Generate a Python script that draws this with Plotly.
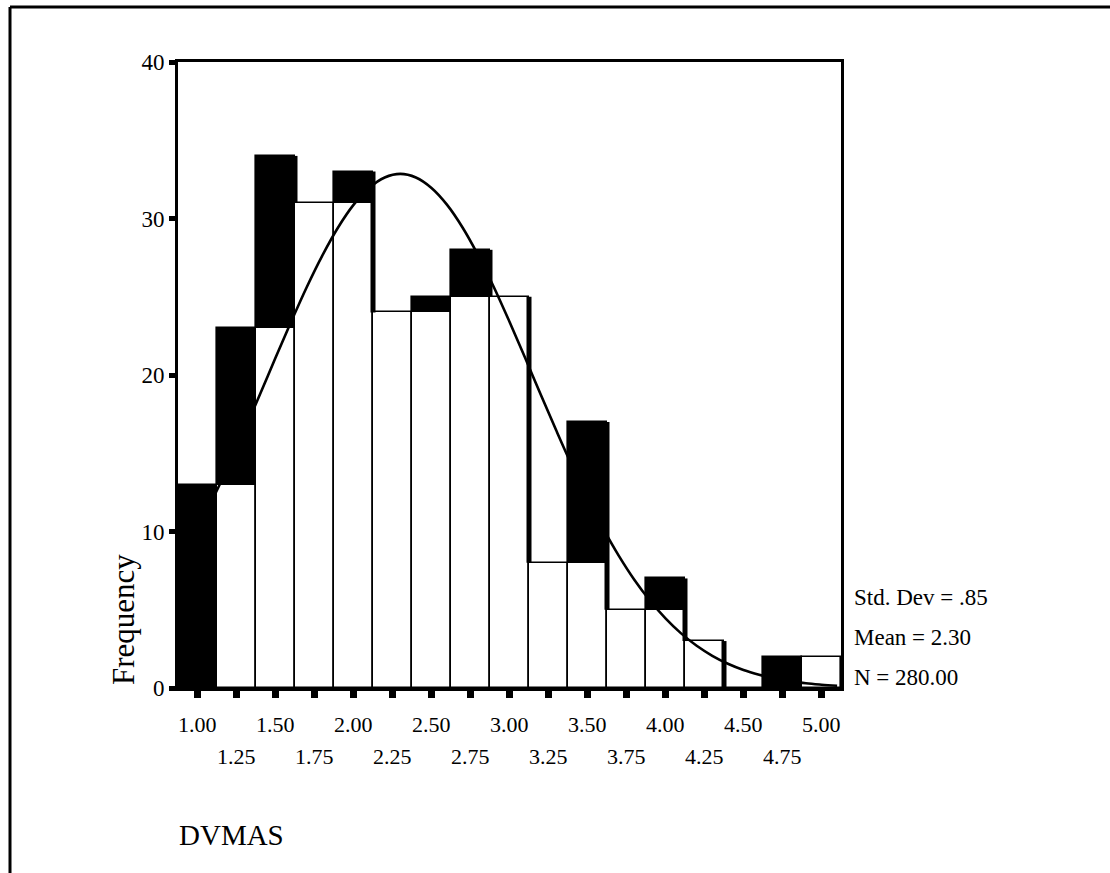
import plotly.graph_objects as go

# ---- data ----
bin_centers = [1.00, 1.25, 1.50, 1.75, 2.00, 2.25, 2.50, 2.75, 3.00,
               3.25, 3.50, 3.75, 4.00, 4.25, 4.50, 4.75, 5.00]
frequencies = [13, 23, 34, 31, 33, 24, 25, 28, 25, 8, 17, 5, 7, 3, 0, 2, 2]
tick_labels = ["1.00", "1.25", "1.50", "1.75", "2.00", "2.25", "2.50", "2.75", "3.00",
               "3.25", "3.50", "3.75", "4.00", "4.25", "4.50", "4.75", "5.00"]
y_ticks = [0, 10, 20, 30, 40]

# normal curve, points
curve_x = [1.1, 1.2, 1.3, 1.4, 1.5, 1.6, 1.7, 1.8, 1.9, 2.0, 2.1, 2.2, 2.3,
           2.4, 2.5, 2.6, 2.7, 2.8, 2.9, 3.0, 3.1, 3.2, 3.3, 3.4, 3.5, 3.6,
           3.7, 3.8, 3.9, 4.0, 4.1, 4.2, 4.3, 4.4, 4.5, 4.6, 4.7, 4.8, 4.9, 5.0, 5.1]
curve_y = [12.13, 14.22, 16.45, 18.75, 21.10, 23.40, 25.61, 27.63, 29.41, 30.87,
           31.95, 32.62, 32.85, 32.62, 31.95, 30.87, 29.41, 27.63, 25.61, 23.40,
           21.10, 18.75, 16.45, 14.22, 12.13, 10.20, 8.46, 6.92, 5.59, 4.45,
           3.49, 2.70, 2.06, 1.55, 1.15, 0.85, 0.61, 0.44, 0.30, 0.21, 0.14]

stats_lines = ["Std. Dev = .85", "Mean = 2.30", "N = 280.00"]
x_title = "DVMAS"
y_title = "Frequency"

# ---- layout geometry (pixels) ----
W, H = 1110, 873
L, R, T, B = 178, 841, 62, 688
BIN_W = 0.25
FONT = "Liberation Serif, Times New Roman, serif"


def px(x):
    return (x - L) / (R - L)


def py(y):
    return (B - y) / (B - T)


# black "shadow" parts: from the previous bar's height up to this bar's height
prev = [0] + frequencies[:-1]
rise = [(f - p) if f > p else None for f, p in zip(frequencies, prev)]

# heavy edges where the next bar is lower
edge_x, edge_y = [], []
for i in range(len(frequencies) - 1):
    if frequencies[i + 1] < frequencies[i]:
        xe = bin_centers[i] + BIN_W / 2
        edge_x += [xe, xe, None]
        edge_y += [frequencies[i + 1], frequencies[i], None]

fig = go.Figure()
fig.add_trace(go.Bar(
    x=bin_centers, y=frequencies, width=BIN_W,
    marker=dict(color="white", line=dict(color="black", width=1.6)),
    hoverinfo="skip", showlegend=False))
fig.add_trace(go.Bar(
    x=bin_centers, y=rise, base=prev, width=BIN_W,
    marker=dict(color="black", line=dict(width=0)),
    hoverinfo="skip", showlegend=False))
fig.add_trace(go.Scatter(
    x=edge_x, y=edge_y, mode="lines",
    line=dict(color="black", width=5), hoverinfo="skip", showlegend=False))
fig.add_trace(go.Scatter(
    x=curve_x, y=curve_y, mode="lines",
    line=dict(color="black", width=2.6, shape="spline"),
    hoverinfo="skip", showlegend=False))

annotations = []
# staggered x tick labels
for i, (xv, lab) in enumerate(zip(bin_centers, tick_labels)):
    yy = 724 if i % 2 == 0 else 756
    annotations.append(dict(x=xv, xref="x", y=py(yy), yref="paper",
                            text=lab, showarrow=False, xanchor="center",
                            yanchor="middle", font=dict(size=22, color="black", family=FONT)))
# stats
for j, s in enumerate(stats_lines):
    annotations.append(dict(x=px(852), xref="paper", y=py(597 + 40 * j), yref="paper",
                            text=s, showarrow=False, xanchor="left", yanchor="middle",
                            font=dict(size=23, color="black", family=FONT)))
# axis titles
annotations.append(dict(x=px(177), xref="paper", y=py(835), yref="paper",
                        text=x_title, showarrow=False, xanchor="left", yanchor="middle",
                        font=dict(size=29, color="black", family=FONT)))
annotations.append(dict(x=px(123), xref="paper", y=py(620), yref="paper",
                        text=y_title, showarrow=False, textangle=-90,
                        xanchor="center", yanchor="middle",
                        font=dict(size=31, color="black", family=FONT)))

shapes = [
    # outer frame (top and left edges visible)
    dict(type="line", xref="paper", yref="paper",
         x0=px(10), x1=px(1110), y0=py(7), y1=py(7),
         line=dict(color="black", width=3)),
    dict(type="line", xref="paper", yref="paper",
         x0=px(10), x1=px(10), y0=py(7), y1=py(873),
         line=dict(color="black", width=3)),
]

fig.update_layout(
    width=W, height=H,
    margin=dict(l=L, r=W - R, t=T, b=H - B, pad=0),
    paper_bgcolor="white", plot_bgcolor="white",
    barmode="overlay", bargap=0,
    annotations=annotations, shapes=shapes,
    font=dict(family=FONT, color="black"),
)
fig.update_xaxes(
    range=[bin_centers[0] - BIN_W / 2, bin_centers[-1] + BIN_W / 2],
    tickvals=bin_centers, showticklabels=False,
    ticks="outside", ticklen=7, tickwidth=7, tickcolor="black",
    showline=True, linecolor="black", linewidth=2.5, mirror=True,
    showgrid=False, zeroline=False, fixedrange=True)
fig.update_yaxes(
    range=[0, 40], tickvals=y_ticks,
    ticks="outside", ticklen=6, tickwidth=5, tickcolor="black",
    tickfont=dict(size=23, color="black", family=FONT),
    showline=True, linecolor="black", linewidth=3, mirror=True,
    showgrid=False, zeroline=False, fixedrange=True)

fig.write_html("out.html", config={"displayModeBar": False})
